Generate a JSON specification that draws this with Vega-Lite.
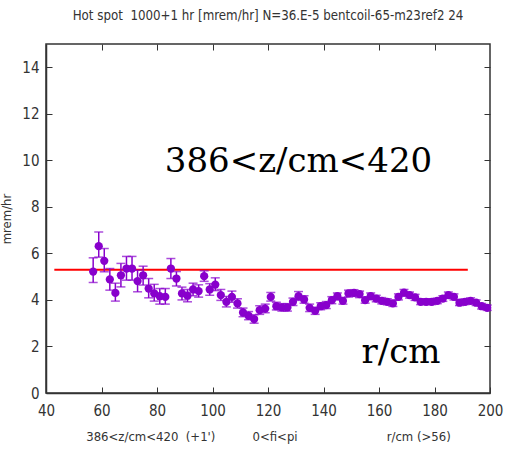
{
  "$schema": "https://vega.github.io/schema/vega-lite/v6.json",
  "width": 444,
  "height": 349,
  "autosize": "none",
  "padding": {"left": 46, "top": 44, "right": 20, "bottom": 56},
  "title": {"text": "Hot spot\u00a0\u00a01000+1 hr [mrem/hr] N=36.E-5 bentcoil-65-m23ref2 24", "font": "DejaVu Sans Condensed", "fontSize": 13.2, "fontWeight": "normal", "color": "#333", "offset": 20, "anchor": "middle"},
  "datasets": {
    "pts": [
      {"r":57,"v":5.22,"lo":4.75,"hi":5.81},{"r":59,"v":6.31,"lo":5.84,"hi":6.92},{"r":61,"v":5.68,"lo":5.21,"hi":6.21},
      {"r":63,"v":4.88,"lo":4.42,"hi":5.35},{"r":65,"v":4.3,"lo":3.95,"hi":4.72},{"r":67,"v":5.06,"lo":4.56,"hi":5.57},
      {"r":69,"v":5.35,"lo":4.85,"hi":5.87},{"r":71,"v":5.35,"lo":4.85,"hi":5.87},{"r":73,"v":4.81,"lo":4.35,"hi":5.28},
      {"r":75,"v":5.06,"lo":4.64,"hi":5.45},{"r":77,"v":4.49,"lo":4.09,"hi":4.92},{"r":79,"v":4.28,"lo":3.95,"hi":4.67},
      {"r":81,"v":4.16,"lo":3.82,"hi":4.49},{"r":83,"v":4.13,"lo":3.82,"hi":4.49},{"r":85,"v":5.35,"lo":4.92,"hi":5.78},
      {"r":87,"v":4.92,"lo":4.6,"hi":5.22},{"r":89,"v":4.28,"lo":4.0,"hi":4.55},{"r":91,"v":4.18,"lo":3.92,"hi":4.45},
      {"r":93,"v":4.45,"lo":4.18,"hi":4.72},{"r":95,"v":4.38,"lo":4.12,"hi":4.65},{"r":97,"v":5.02,"lo":4.8,"hi":5.25},
      {"r":99,"v":4.45,"lo":4.2,"hi":4.7},{"r":101,"v":4.66,"lo":4.4,"hi":4.95},{"r":103,"v":4.21,"lo":3.98,"hi":4.45},
      {"r":105,"v":3.92,"lo":3.7,"hi":4.15},{"r":107,"v":4.13,"lo":3.9,"hi":4.38},{"r":109,"v":3.85,"lo":3.65,"hi":4.05},
      {"r":111,"v":3.46,"lo":3.28,"hi":3.65},{"r":113,"v":3.32,"lo":3.15,"hi":3.5},{"r":115,"v":3.18,"lo":3.0,"hi":3.36},
      {"r":117,"v":3.56,"lo":3.38,"hi":3.75},{"r":119,"v":3.63,"lo":3.45,"hi":3.82},{"r":121,"v":4.13,"lo":3.95,"hi":4.32},
      {"r":123,"v":3.73,"lo":3.57,"hi":3.9},{"r":125,"v":3.68,"lo":3.52,"hi":3.84},{"r":127,"v":3.68,"lo":3.52,"hi":3.84},
      {"r":129,"v":3.92,"lo":3.76,"hi":4.08},{"r":131,"v":4.16,"lo":3.98,"hi":4.36},{"r":133,"v":4.02,"lo":3.86,"hi":4.18},
      {"r":135,"v":3.66,"lo":3.5,"hi":3.82},{"r":137,"v":3.53,"lo":3.38,"hi":3.68},{"r":139,"v":3.73,"lo":3.58,"hi":3.88},
      {"r":141,"v":3.78,"lo":3.63,"hi":3.93},{"r":143,"v":3.99,"lo":3.84,"hi":4.14},{"r":145,"v":4.16,"lo":4.0,"hi":4.3},
      {"r":147,"v":3.96,"lo":3.82,"hi":4.1},{"r":149,"v":4.28,"lo":4.13,"hi":4.42},{"r":151,"v":4.3,"lo":4.15,"hi":4.44},
      {"r":153,"v":4.25,"lo":4.1,"hi":4.38},{"r":155,"v":3.99,"lo":3.86,"hi":4.12},{"r":157,"v":4.16,"lo":4.02,"hi":4.3},
      {"r":159,"v":4.06,"lo":3.92,"hi":4.2},{"r":161,"v":3.96,"lo":3.83,"hi":4.1},{"r":163,"v":3.92,"lo":3.79,"hi":4.05},
      {"r":165,"v":3.85,"lo":3.72,"hi":3.98},{"r":167,"v":4.13,"lo":4.0,"hi":4.26},{"r":169,"v":4.31,"lo":4.17,"hi":4.45},
      {"r":171,"v":4.21,"lo":4.08,"hi":4.34},{"r":173,"v":4.11,"lo":3.98,"hi":4.24},{"r":175,"v":3.92,"lo":3.8,"hi":4.05},
      {"r":177,"v":3.92,"lo":3.8,"hi":4.05},{"r":179,"v":3.92,"lo":3.8,"hi":4.05},{"r":181,"v":3.96,"lo":3.84,"hi":4.08},
      {"r":183,"v":4.06,"lo":3.94,"hi":4.18},{"r":185,"v":4.21,"lo":4.08,"hi":4.34},{"r":187,"v":4.13,"lo":4.0,"hi":4.26},
      {"r":189,"v":3.88,"lo":3.76,"hi":4.0},{"r":191,"v":3.92,"lo":3.8,"hi":4.05},{"r":193,"v":3.96,"lo":3.84,"hi":4.09},
      {"r":195,"v":3.88,"lo":3.76,"hi":4.0},{"r":197,"v":3.73,"lo":3.61,"hi":3.85},{"r":199,"v":3.66,"lo":3.55,"hi":3.78}
    ],
    "ref": [{"r0":43,"r1":192,"v":5.3}],
    "notes": [{"r":82.8,"v":9.48,"label":"386<z/cm<420"},{"r":153.7,"v":1.29,"label":"r/cm"}]
  },
  "layer": [
    {
      "data": {"name": "ref"},
      "mark": {"type": "rule", "color": "#ff0000", "strokeWidth": 2},
      "encoding": {
        "x": {"field": "r0", "type": "quantitative", "scale": {"domain": [40, 200], "nice": false, "zero": false},
              "axis": {"orient": "bottom", "values": [40,60,80,100,120,140,160,180,200], "labelFlush": false, "labelPadding": 16, "titlePadding": 12,
                       "title": "386<z/cm<420\u00a0\u00a0(+1')\u00a0\u00a0\u00a0\u00a0\u00a0\u00a0\u00a0\u00a0\u00a0\u00a00<fi<pi\u00a0\u00a0\u00a0\u00a0\u00a0\u00a0\u00a0\u00a0\u00a0\u00a0\u00a0\u00a0\u00a0\u00a0\u00a0\u00a0\u00a0\u00a0\u00a0\u00a0\u00a0\u00a0\u00a0\u00a0r/cm (>56)"}},
        "x2": {"field": "r1"},
        "y": {"field": "v", "type": "quantitative", "scale": {"domain": [0, 15], "nice": false},
              "axis": {"orient": "left", "values": [0,2,4,6,8,10,12,14], "labelFlush": false, "labelPadding": 13, "title": "mrem/hr", "titlePadding": 8}}
      }
    },
    {
      "data": {"name": "pts"},
      "mark": {"type": "rule", "color": "#8800cc", "strokeWidth": 1.5},
      "encoding": {
        "x": {"field": "r", "type": "quantitative", "axis": {"orient": "top", "values": [60,80,100,120,140,160,180], "labels": false, "title": null, "domain": false}},
        "y": {"field": "lo", "type": "quantitative", "axis": {"orient": "right", "values": [2,4,6,8,10,12,14], "labels": false, "title": null, "domain": false}},
        "y2": {"field": "hi"}
      }
    },
    {
      "data": {"name": "pts"},
      "mark": {"type": "tick", "orient": "horizontal", "color": "#8800cc", "size": 9, "thickness": 1.5},
      "encoding": {
        "x": {"field": "r", "type": "quantitative", "axis": null},
        "y": {"field": "lo", "type": "quantitative", "axis": null}
      }
    },
    {
      "data": {"name": "pts"},
      "mark": {"type": "tick", "orient": "horizontal", "color": "#8800cc", "size": 9, "thickness": 1.5},
      "encoding": {
        "x": {"field": "r", "type": "quantitative", "axis": null},
        "y": {"field": "hi", "type": "quantitative", "axis": null}
      }
    },
    {
      "data": {"name": "pts"},
      "mark": {"type": "point", "shape": "circle", "filled": true, "color": "#8800cc", "size": 68, "opacity": 1},
      "encoding": {
        "x": {"field": "r", "type": "quantitative", "axis": null},
        "y": {"field": "v", "type": "quantitative", "axis": null}
      }
    },
    {
      "data": {"name": "notes"},
      "mark": {"type": "text", "font": "DejaVu Serif", "fontSize": 34, "align": "left", "baseline": "alphabetic", "color": "#000"},
      "encoding": {
        "x": {"field": "r", "type": "quantitative", "axis": null},
        "y": {"field": "v", "type": "quantitative", "axis": null},
        "text": {"field": "label"}
      }
    }
  ],
  "resolve": {"axis": {"x": "independent", "y": "independent"}},
  "config": {
    "view": {"stroke": "#333", "strokeWidth": 1.5},
    "axis": {"labelFont": "DejaVu Sans Condensed", "labelFontSize": 15, "labelColor": "#333",
             "titleFont": "DejaVu Sans Condensed", "titleFontWeight": "normal", "titleFontSize": 13, "titleColor": "#333",
             "grid": false, "domainColor": "#333", "domainWidth": 1.5, "tickColor": "#333", "tickSize": -6, "tickWidth": 1}
  }
}
